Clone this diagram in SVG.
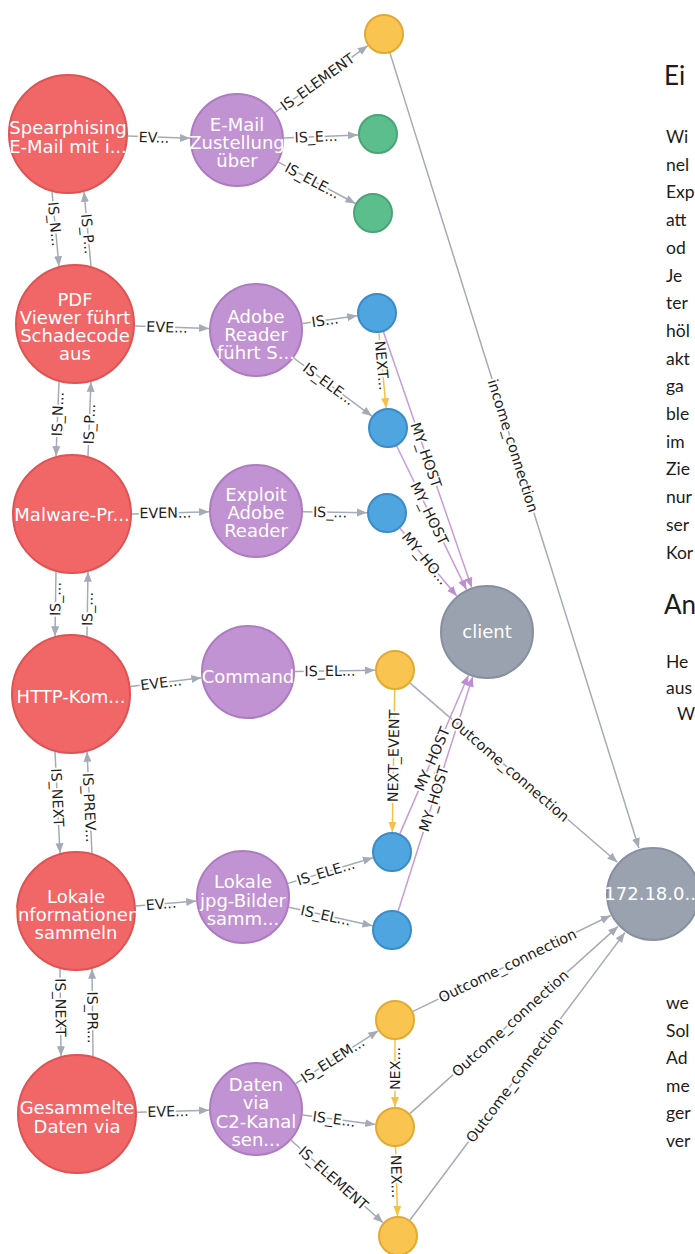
<svg xmlns="http://www.w3.org/2000/svg" width="695" height="1254" viewBox="0 0 695 1254">
<defs>
<style>
.e{stroke:#A5ABB6;stroke-width:1.5;fill:none}
.ey{stroke:#F5C04A;stroke-width:1.5;fill:none}
.ep{stroke:#C79BD8;stroke-width:1.5;fill:none}
.l{font-family:"DejaVu Sans",sans-serif;font-size:14.3px;fill:#1e1e1e;text-anchor:middle;dominant-baseline:central;stroke:#fff;stroke-width:4;stroke-linejoin:round;paint-order:stroke}
.t{font-family:"DejaVu Sans",sans-serif;font-size:18px;fill:#fff;text-anchor:middle}
.red{fill:#F16667;stroke:#DF5354;stroke-width:2}
.pur{fill:#C293D3;stroke:#AE7BC2;stroke-width:2}
.yel{fill:#F9C550;stroke:#E2AA33;stroke-width:2}
.grn{fill:#5BBE8C;stroke:#47A576;stroke-width:2}
.blu{fill:#4FA5E0;stroke:#3A8CC8;stroke-width:2}
.gry{fill:#9AA2B0;stroke:#878FA0;stroke-width:2}
.p{font-family:"Lato","Open Sans",sans-serif;font-size:17.5px;fill:#1c1c1c}
.h{font-family:"Lato","Open Sans",sans-serif;font-size:26px;fill:#1c1c1c}
</style>
<marker id="ag" viewBox="0 0 10 10" refX="10" refY="5" markerWidth="10" markerHeight="10" markerUnits="userSpaceOnUse" orient="auto"><path d="M0,1 L10,5 L0,9 z" fill="#A5ABB6"/></marker>
<marker id="ay" viewBox="0 0 10 10" refX="10" refY="5" markerWidth="10" markerHeight="10" markerUnits="userSpaceOnUse" orient="auto"><path d="M0,1 L10,5 L0,9 z" fill="#F5C04A"/></marker>
<marker id="ap" viewBox="0 0 10 10" refX="10" refY="5" markerWidth="10" markerHeight="10" markerUnits="userSpaceOnUse" orient="auto"><path d="M0,1 L10,5 L0,9 z" fill="#C08CD6"/></marker>
</defs>
<rect width="695" height="1254" fill="#fff"/>

<g id="page-text">
<text class="h" x="664" y="85">Ei</text>
<text class="p" x="666" y="143">Wi</text>
<text class="p" x="666" y="170.7">nel</text>
<text class="p" x="666" y="198.4">Exp</text>
<text class="p" x="666" y="226.1">att</text>
<text class="p" x="666" y="253.8">od</text>
<text class="p" x="666" y="281.5">Je</text>
<text class="p" x="666" y="309.2">ter</text>
<text class="p" x="666" y="336.9">höl</text>
<text class="p" x="666" y="364.6">akt</text>
<text class="p" x="666" y="392.3">ga</text>
<text class="p" x="666" y="420">ble</text>
<text class="p" x="666" y="447.7">im</text>
<text class="p" x="666" y="475.4">Zie</text>
<text class="p" x="666" y="503.1">nur</text>
<text class="p" x="666" y="530.8">ser</text>
<text class="p" x="666" y="558.5">Kor</text>
<text class="h" x="664" y="614">An</text>
<text class="p" x="666" y="668">He</text>
<text class="p" x="666" y="694">aus</text>
<text class="p" x="677" y="720">W</text>
<text class="p" x="666" y="1009">we</text>
<text class="p" x="666" y="1036.5">Sol</text>
<text class="p" x="666" y="1064">Ad</text>
<text class="p" x="666" y="1091.5">me</text>
<text class="p" x="666" y="1119">ger</text>
<text class="p" x="666" y="1146.5">ver</text>
</g>

<g id="edges">
<!-- EVENT -->
<line class="e" x1="128" y1="136.1" x2="190" y2="138.3" marker-end="url(#ag)"/>
<text class="l" transform="translate(154,137.5) rotate(2)">EV...</text>
<line class="e" x1="135" y1="326" x2="209" y2="328.4" marker-end="url(#ag)"/>
<text class="l" transform="translate(167,327.2) rotate(1.9)">EVE...</text>
<line class="e" x1="132" y1="513.9" x2="209" y2="511.8" marker-end="url(#ag)"/>
<text class="l" transform="translate(165.5,512.9) rotate(-0.9)">EVEN...</text>
<line class="e" x1="130.5" y1="686.6" x2="201.4" y2="677.8" marker-end="url(#ag)"/>
<text class="l" transform="translate(161,682.8) rotate(-7.1)">EVE...</text>
<line class="e" x1="135.8" y1="906" x2="196.2" y2="901.1" marker-end="url(#ag)"/>
<text class="l" transform="translate(161,904) rotate(-4.8)">EV...</text>
<line class="e" x1="137" y1="1112.3" x2="209" y2="1110.3" marker-end="url(#ag)"/>
<text class="l" transform="translate(168,1111.5) rotate(-1.6)">EVE...</text>

<!-- IS_ELEMENT -->
<line class="e" x1="275.1" y1="112.5" x2="367.8" y2="45.7" marker-end="url(#ag)"/>
<text class="l" transform="translate(317.4,82) rotate(-35.8)">IS_ELEMENT</text>
<line class="e" x1="284" y1="138" x2="358" y2="134.9" marker-end="url(#ag)"/>
<text class="l" transform="translate(316,136.7) rotate(-2.4)">IS_E...</text>
<line class="e" x1="278.4" y1="162.2" x2="355.4" y2="203.5" marker-end="url(#ag)"/>
<text class="l" transform="translate(312.5,180.5) rotate(28.2)">IS_ELE...</text>
<line class="e" x1="302.5" y1="323.5" x2="357.2" y2="315.8" marker-end="url(#ag)"/>
<text class="l" transform="translate(325,320.3) rotate(-8)">IS...</text>
<line class="e" x1="293.7" y1="358" x2="371.9" y2="416.1" marker-end="url(#ag)"/>
<text class="l" transform="translate(328.8,384) rotate(36.6)">IS_ELE...</text>
<line class="e" x1="303" y1="511.7" x2="367" y2="512.7" marker-end="url(#ag)"/>
<text class="l" transform="translate(330,512.2) rotate(0.9)">IS_...</text>
<line class="e" x1="295" y1="671.4" x2="375" y2="670.3" marker-end="url(#ag)"/>
<text class="l" transform="translate(330,671) rotate(-0.8)">IS_EL...</text>
<line class="e" x1="288" y1="883.4" x2="372.9" y2="857.8" marker-end="url(#ag)"/>
<text class="l" transform="translate(325.7,872) rotate(-16.8)">IS_ELE...</text>
<line class="e" x1="288.9" y1="907.2" x2="372.5" y2="925.7" marker-end="url(#ag)"/>
<text class="l" transform="translate(325.8,915.4) rotate(12.5)">IS_EL...</text>
<line class="e" x1="295.6" y1="1083.6" x2="378.2" y2="1030.8" marker-end="url(#ag)"/>
<text class="l" transform="translate(332.7,1059.9) rotate(-32.6)">IS_ELEM...</text>
<line class="e" x1="302.6" y1="1115" x2="375.2" y2="1124.4" marker-end="url(#ag)"/>
<text class="l" transform="translate(334,1119) rotate(7.4)">IS_E...</text>
<line class="e" x1="291" y1="1140.3" x2="383.1" y2="1222.7" marker-end="url(#ag)"/>
<text class="l" transform="translate(333.3,1178) rotate(41.8)">IS_ELEMENT</text>

<!-- IS_NEXT / IS_PREV -->
<line class="e" x1="52" y1="191.8" x2="59" y2="266.2" marker-end="url(#ag)"/>
<text class="l" transform="translate(55,224) rotate(84.6)">IS_N...</text>
<line class="e" x1="91" y1="266.2" x2="84" y2="191.8" marker-end="url(#ag)"/>
<text class="l" transform="translate(88,234) rotate(84.6)">IS_P...</text>
<line class="e" x1="59" y1="381.8" x2="56" y2="456.2" marker-end="url(#ag)"/>
<text class="l" transform="translate(57.7,414) rotate(-87.7)">IS_N...</text>
<line class="e" x1="88" y1="456.2" x2="91" y2="381.8" marker-end="url(#ag)"/>
<text class="l" transform="translate(89.3,424) rotate(-87.7)">IS_P...</text>
<line class="e" x1="56" y1="571.8" x2="55" y2="636.2" marker-end="url(#ag)"/>
<text class="l" transform="translate(55.5,599) rotate(-89.1)">IS_...</text>
<line class="e" x1="87" y1="636.2" x2="88" y2="571.8" marker-end="url(#ag)"/>
<text class="l" transform="translate(87.5,609) rotate(-89.1)">IS_...</text>
<line class="e" x1="55" y1="751.8" x2="60" y2="853.2" marker-end="url(#ag)"/>
<text class="l" transform="translate(57.5,797.5) rotate(87.2)">IS_NEXT</text>
<line class="e" x1="92" y1="853.2" x2="87" y2="751.8" marker-end="url(#ag)"/>
<text class="l" transform="translate(89.5,807.5) rotate(87.2)">IS_PREV...</text>
<line class="e" x1="60" y1="968.8" x2="61" y2="1056.2" marker-end="url(#ag)"/>
<text class="l" transform="translate(60.5,1007.5) rotate(89.3)">IS_NEXT</text>
<line class="e" x1="93" y1="1056.2" x2="92" y2="968.8" marker-end="url(#ag)"/>
<text class="l" transform="translate(92.5,1017.5) rotate(89.3)">IS_PR...</text>

<!-- NEXT_EVENT -->
<line class="ey" x1="378.9" y1="332.9" x2="386.1" y2="408.1" marker-end="url(#ay)"/>
<text class="l" transform="translate(382,365.5) rotate(84.5)">NEXT...</text>
<line class="ey" x1="394.7" y1="690" x2="392.3" y2="832" marker-end="url(#ay)"/>
<text class="l" transform="translate(393.6,756) rotate(-89.1)">NEXT_EVENT</text>
<line class="ey" x1="395" y1="1040" x2="395" y2="1107" marker-end="url(#ay)"/>
<text class="l" transform="translate(395,1068.5) rotate(-90)">NEX...</text>
<line class="ey" x1="395.6" y1="1147" x2="397.5" y2="1216" marker-end="url(#ay)"/>
<text class="l" transform="translate(396.4,1176.5) rotate(88.4)">NEX...</text>

<!-- MY_HOST -->
<line class="ep" x1="383.5" y1="331.9" x2="471.7" y2="587.6" marker-end="url(#ap)"/>
<text class="l" transform="translate(426,455) rotate(71)">MY_HOST</text>
<line class="ep" x1="396.7" y1="446" x2="466.5" y2="589.7" marker-end="url(#ap)"/>
<text class="l" transform="translate(429.4,513.3) rotate(64.1)">MY_HOST</text>
<line class="ep" x1="399.9" y1="528.3" x2="456.8" y2="596" marker-end="url(#ap)"/>
<text class="l" transform="translate(425.1,558.3) rotate(50)">MY_HO...</text>
<line class="ep" x1="399.9" y1="833.6" x2="468.4" y2="675.2" marker-end="url(#ap)"/>
<text class="l" transform="translate(432.2,759) rotate(-66.6)">MY_HOST</text>
<line class="ep" x1="398.1" y1="911" x2="472.7" y2="676.8" marker-end="url(#ap)"/>
<text class="l" transform="translate(433.9,798.7) rotate(-72.3)">MY_HOST</text>

<!-- connections -->
<line class="e" x1="390" y1="53.1" x2="638.9" y2="848.1" marker-end="url(#ag)"/>
<text class="l" transform="translate(513,445.8) rotate(72.6)">income_connection</text>
<line class="e" x1="410.1" y1="683.1" x2="617.4" y2="862.3" marker-end="url(#ag)"/>
<text class="l" transform="translate(510,769.5) rotate(40.8)">Outcome_connection</text>
<line class="e" x1="413" y1="1011.3" x2="610.7" y2="915.5" marker-end="url(#ag)"/>
<text class="l" transform="translate(507.4,965.6) rotate(-25.8)">Outcome_connection</text>
<line class="e" x1="409.9" y1="1113.6" x2="618.1" y2="926.4" marker-end="url(#ag)"/>
<text class="l" transform="translate(510.3,1023.4) rotate(-42)">Outcome_connection</text>
<line class="e" x1="410" y1="1220" x2="624.9" y2="932.6" marker-end="url(#ag)"/>
<text class="l" transform="translate(514.5,1080.3) rotate(-53.2)">Outcome_connection</text>
</g>

<g id="n-spearphising"><circle class="red" cx="68" cy="134" r="59"/><text class="t" x="68" y="134">Spearphising</text><text class="t" x="68" y="153">E-Mail mit i...</text></g>
<g id="n-pdf"><circle class="red" cx="75" cy="324" r="59"/><text class="t" x="75" y="306">PDF</text><text class="t" x="75" y="324">Viewer führt</text><text class="t" x="75" y="342">Schadecode</text><text class="t" x="75" y="360">aus</text></g>
<g id="n-malware"><circle class="red" cx="72" cy="514" r="59"/><text class="t" x="72" y="521">Malware-Pr...</text></g>
<g id="n-http"><circle class="red" cx="71" cy="694" r="59"/><text class="t" x="71" y="703">HTTP-Kom...</text></g>
<g id="n-lokale-info"><circle class="red" cx="76" cy="911" r="59"/><text class="t" x="76" y="903">Lokale</text><text class="t" x="76" y="921">Informationen</text><text class="t" x="76" y="939">sammeln</text></g>
<g id="n-gesammelte"><circle class="red" cx="77" cy="1114" r="59"/><text class="t" x="77" y="1114">Gesammelte</text><text class="t" x="77" y="1133">Daten via</text></g>

<g id="n-email"><circle class="pur" cx="237" cy="140" r="46"/><text class="t" x="237" y="131">E-Mail</text><text class="t" x="237" y="149">Zustellung</text><text class="t" x="237" y="167">über</text></g>
<g id="n-adobe"><circle class="pur" cx="256" cy="330" r="46"/><text class="t" x="256" y="323">Adobe</text><text class="t" x="256" y="341">Reader</text><text class="t" x="256" y="359">führt S...</text></g>
<g id="n-exploit"><circle class="pur" cx="256" cy="511" r="46"/><text class="t" x="256" y="501">Exploit</text><text class="t" x="256" y="519">Adobe</text><text class="t" x="256" y="537">Reader</text></g>
<g id="n-command"><circle class="pur" cx="248" cy="672" r="46"/><text class="t" x="248" y="683">Command</text></g>
<g id="n-jpg"><circle class="pur" cx="243" cy="897" r="46"/><text class="t" x="243" y="888">Lokale</text><text class="t" x="243" y="907">jpg-Bilder</text><text class="t" x="243" y="925">samm...</text></g>
<g id="n-daten"><circle class="pur" cx="256" cy="1109" r="46"/><text class="t" x="256" y="1091">Daten</text><text class="t" x="256" y="1109">via</text><text class="t" x="256" y="1128">C2-Kanal</text><text class="t" x="256" y="1146">sen...</text></g>

<g id="n-y0"><circle class="yel" cx="384" cy="34" r="19"/></g>
<g id="n-g1"><circle class="grn" cx="378" cy="134" r="19"/></g>
<g id="n-g2"><circle class="grn" cx="373" cy="213" r="19"/></g>
<g id="n-b1"><circle class="blu" cx="377" cy="313" r="19"/></g>
<g id="n-b2"><circle class="blu" cx="388" cy="428" r="19"/></g>
<g id="n-b3"><circle class="blu" cx="387" cy="513" r="19"/></g>
<g id="n-ycmd"><circle class="yel" cx="395" cy="670" r="19"/></g>
<g id="n-b4"><circle class="blu" cx="392" cy="852" r="19"/></g>
<g id="n-b5"><circle class="blu" cx="392" cy="930" r="19"/></g>
<g id="n-ya"><circle class="yel" cx="395" cy="1020" r="19"/></g>
<g id="n-yb"><circle class="yel" cx="395" cy="1127" r="19"/></g>
<g id="n-yc"><circle class="yel" cx="398" cy="1236" r="19"/></g>

<g id="n-client"><circle class="gry" cx="487" cy="632" r="46"/><text class="t" x="487" y="638">client</text></g>
<g id="n-ip"><circle class="gry" cx="653" cy="894" r="46"/><text class="t" x="653" y="900">172.18.0...</text></g>
</svg>
